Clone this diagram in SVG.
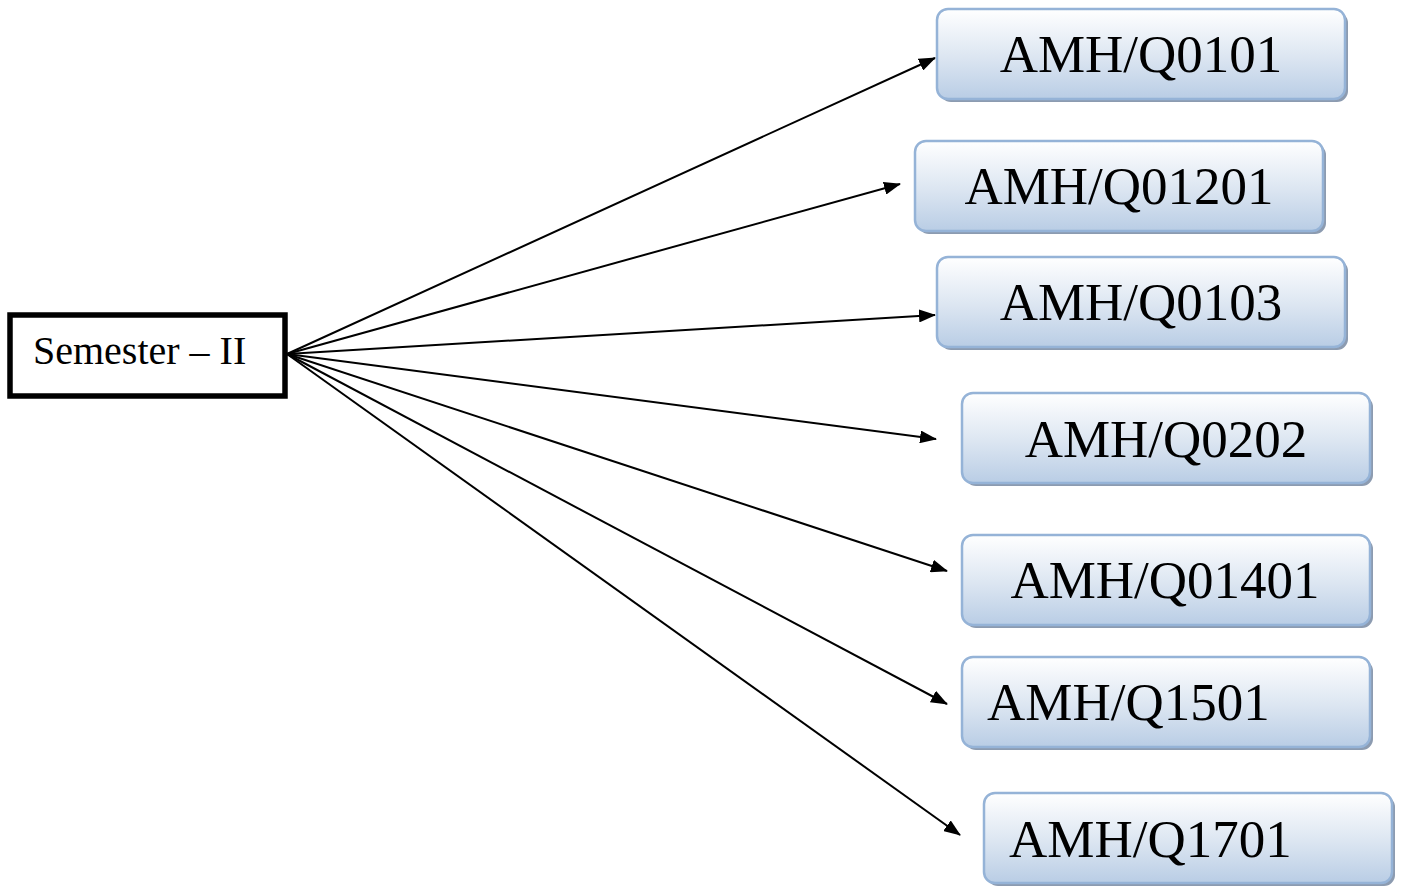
<svg xmlns="http://www.w3.org/2000/svg" width="1403" height="888" viewBox="0 0 1403 888">
<defs>
<linearGradient id="g" x1="0" y1="0" x2="0" y2="1">
<stop offset="0" stop-color="#ffffff"/>
<stop offset="0.55" stop-color="#dbe5f1"/>
<stop offset="1" stop-color="#b9cde5"/>
</linearGradient>
<marker id="ah" markerWidth="17" markerHeight="13" refX="16" refY="6.5" orient="auto" markerUnits="userSpaceOnUse">
<path d="M0,0 L17,6.5 L0,13 Z" fill="#000"/>
</marker>
</defs>
<style>
.box{fill:url(#g);stroke:#95b3d7;stroke-width:2.5}
.sh{fill:#8c9bb0}
.t{font-family:"Liberation Serif","Times New Roman",serif;font-size:53px;fill:#000}
.c{stroke:#000;stroke-width:2;fill:none;marker-end:url(#ah)}
</style>
<rect width="1403" height="888" fill="#fff"/>
<g id="semester">
<rect x="10" y="315" width="275" height="81" fill="#fff" stroke="#000" stroke-width="5.5"/>
<text x="33" y="364" font-family="Liberation Serif,Times New Roman,serif" font-size="40" fill="#000">Semester – II</text>
</g>
<g id="connectors">
<line class="c" x1="287" y1="354" x2="935" y2="58"/>
<line class="c" x1="287" y1="354" x2="900" y2="184"/>
<line class="c" x1="287" y1="354" x2="935" y2="315"/>
<line class="c" x1="287" y1="354" x2="936" y2="439"/>
<line class="c" x1="287" y1="354" x2="947" y2="571"/>
<line class="c" x1="287" y1="354" x2="947" y2="704"/>
<line class="c" x1="287" y1="354" x2="960" y2="835"/>
</g>
<g id="n1">
<rect class="sh" x="940" y="12" width="408" height="90" rx="11"/>
<rect class="box" x="937" y="9" width="408" height="90" rx="11"/>
<text class="t" x="1141" y="72" text-anchor="middle">AMH/Q0101</text>
</g>
<g id="n2">
<rect class="sh" x="918" y="144" width="408" height="90" rx="11"/>
<rect class="box" x="915" y="141" width="408" height="90" rx="11"/>
<text class="t" x="1119" y="204" text-anchor="middle">AMH/Q01201</text>
</g>
<g id="n3">
<rect class="sh" x="940" y="260" width="408" height="90" rx="11"/>
<rect class="box" x="937" y="257" width="408" height="90" rx="11"/>
<text class="t" x="1141" y="320" text-anchor="middle">AMH/Q0103</text>
</g>
<g id="n4">
<rect class="sh" x="965" y="396" width="408" height="90" rx="11"/>
<rect class="box" x="962" y="393" width="408" height="90" rx="11"/>
<text class="t" x="1166" y="457" text-anchor="middle">AMH/Q0202</text>
</g>
<g id="n5">
<rect class="sh" x="965" y="538" width="408" height="90" rx="11"/>
<rect class="box" x="962" y="535" width="408" height="90" rx="11"/>
<text class="t" x="1165" y="598" text-anchor="middle">AMH/Q01401</text>
</g>
<g id="n6">
<rect class="sh" x="965" y="660" width="408" height="90" rx="11"/>
<rect class="box" x="962" y="657" width="408" height="90" rx="11"/>
<text class="t" x="987" y="720">AMH/Q1501</text>
</g>
<g id="n7">
<rect class="sh" x="987" y="796" width="408" height="90" rx="11"/>
<rect class="box" x="984" y="793" width="408" height="90" rx="11"/>
<text class="t" x="1009" y="857">AMH/Q1701</text>
</g>
</svg>
